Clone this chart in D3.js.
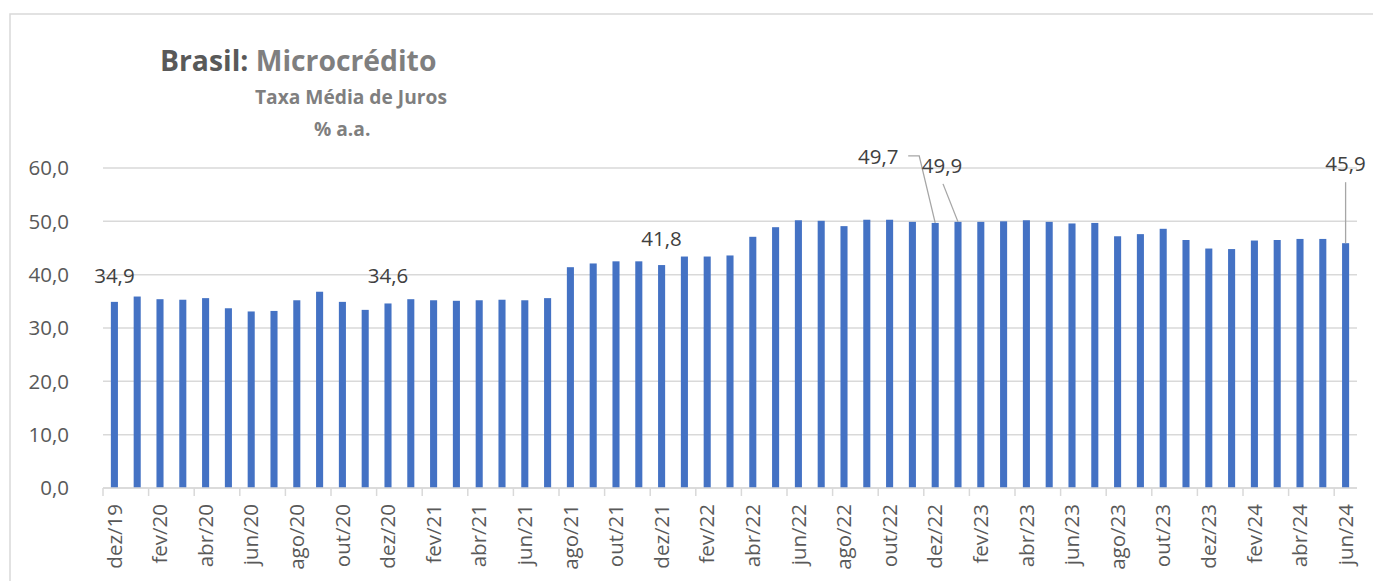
<!DOCTYPE html>
<html><head><meta charset="utf-8">
<script src="https://cdn.jsdelivr.net/npm/d3@7"></script>
<style>html,body{margin:0;padding:0;background:#fff;}svg{display:block;font-family:"Open Sans",sans-serif;}</style>
</head><body>
<svg id="chart" width="1373" height="581"></svg>
<script>
const categories = ["dez/19","jan/20","fev/20","mar/20","abr/20","mai/20","jun/20","jul/20","ago/20","set/20","out/20","nov/20",
"dez/20","jan/21","fev/21","mar/21","abr/21","mai/21","jun/21","jul/21","ago/21","set/21","out/21","nov/21",
"dez/21","jan/22","fev/22","mar/22","abr/22","mai/22","jun/22","jul/22","ago/22","set/22","out/22","nov/22",
"dez/22","jan/23","fev/23","mar/23","abr/23","mai/23","jun/23","jul/23","ago/23","set/23","out/23","nov/23",
"dez/23","jan/24","fev/24","mar/24","abr/24","mai/24","jun/24"];
const values = [34.9,35.9,35.4,35.3,35.6,33.7,33.1,33.2,35.2,36.8,34.9,33.4,
34.6,35.4,35.2,35.1,35.2,35.3,35.2,35.6,41.4,42.1,42.5,42.5,
41.8,43.4,43.4,43.6,47.1,48.9,50.2,50.1,49.1,50.3,50.3,49.9,
49.7,49.9,49.9,50.0,50.2,49.9,49.6,49.7,47.2,47.6,48.6,46.5,
44.9,44.8,46.4,46.5,46.7,46.7,45.9];
const yTicks = [0,10,20,30,40,50,60];
const labeledCats = ["dez/19","dez/20","dez/21","dez/22","jan/23","jun/24"];
const titleBold = "Brasil:";
const titleRest = "Microcrédito";
const subtitle1 = "Taxa Média de Juros";
const subtitle2 = "% a.a.";

const svg = d3.select("#chart");
const fmt = v => d3.format(".1f")(v).replace(".", ",");

// frame
svg.append("path").attr("d","M10,581 L10,14 L1373,14").attr("fill","none").attr("stroke","#d9d9d9").attr("stroke-width",1.5);

const x = d3.scaleBand().domain(categories).range([103,1357]).paddingInner(0.69).paddingOuter(0.345);
const y = d3.scaleLinear().domain([0,60]).range([488,168]);

// gridlines
svg.append("g").selectAll("line").data(yTicks).join("line")
  .attr("x1",103).attr("x2",1357).attr("y1",d=>y(d)).attr("y2",d=>y(d))
  .attr("stroke","#d9d9d9").attr("stroke-width",1.5);

// y labels
svg.append("g").selectAll("text").data(yTicks).join("text")
  .attr("x",69).attr("y",d=>y(d)).attr("dy","0.35em").attr("text-anchor","end")
  .attr("font-size",20.5).attr("fill","#595959").text(fmt);

// bars
svg.append("g").selectAll("rect").data(values).join("rect")
  .attr("x",(d,i)=>x(categories[i])).attr("width",x.bandwidth())
  .attr("y",d=>y(d)).attr("height",d=>y(0)-y(d)).attr("fill","#4472C4");

// x axis
const step = x.step();
const x0 = 103;
const xAxis = svg.append("g");
xAxis.append("line").attr("x1",103).attr("x2",1357).attr("y1",y(0)).attr("y2",y(0)).attr("stroke","#d9d9d9").attr("stroke-width",1.5);
const shown = categories.filter((c,i)=>i%2===0);
xAxis.selectAll("line.tick").data(shown).join("line").attr("class","tick")
  .attr("x1",c=>x0+categories.indexOf(c)*step).attr("x2",c=>x0+categories.indexOf(c)*step)
  .attr("y1",y(0)).attr("y2",y(0)+8).attr("stroke","#d9d9d9").attr("stroke-width",1.5);
xAxis.selectAll("text").data(shown).join("text")
  .attr("transform",c=>`translate(${x(c)+x.bandwidth()/2},504) rotate(-90)`)
  .attr("dy","0.35em").attr("text-anchor","end").attr("font-size",20.5).attr("fill","#595959").text(c=>c);

// data labels
const labelCfg = {
  "dez/19":{dx:0,dy:-19},
  "dez/20":{dx:0,dy:-20},
  "dez/21":{dx:0,dy:-19},
  "dez/22":{dx:-57,dy:-59,leader:"elbow"},
  "jan/23":{dx:-16,dy:-49,leader:"line"},
  "jun/24":{dx:0,dy:-72,leader:"vert"}
};
const lg = svg.append("g");
labeledCats.forEach(c=>{
  const i = categories.indexOf(c);
  const v = values[i];
  const cx = x(c)+x.bandwidth()/2, cy = y(v);
  const cfg = labelCfg[c];
  const tx = cx+cfg.dx, ty = cy+cfg.dy;
  lg.append("text").attr("x",tx).attr("y",ty).attr("text-anchor","middle")
    .attr("font-size",20.5).attr("fill","#404040").text(fmt(v));
  if(cfg.leader==="elbow"){
    lg.append("path").attr("d",`M${tx+30},${ty-8} L${tx+41},${ty-8} L${cx},${cy}`)
      .attr("fill","none").attr("stroke","#a6a6a6").attr("stroke-width",1.3);
  } else if(cfg.leader==="line"){
    lg.append("path").attr("d",`M${tx+1},${ty+11} L${cx},${cy}`)
      .attr("fill","none").attr("stroke","#a6a6a6").attr("stroke-width",1.3);
  } else if(cfg.leader==="vert"){
    lg.append("path").attr("d",`M${cx},${ty+11} L${cx},${cy}`)
      .attr("fill","none").attr("stroke","#a6a6a6").attr("stroke-width",1.3);
  }
});

// titles
const t = svg.append("text").attr("x",160).attr("y",71).attr("font-size",28.3).attr("font-weight","bold");
t.append("tspan").attr("fill","#595959").text(titleBold);
t.append("tspan").attr("fill","#7f7f7f").text(" "+titleRest);
svg.append("text").attr("x",255).attr("y",104).attr("font-size",19.2).attr("font-weight","bold").attr("fill","#7f7f7f").text(subtitle1);
svg.append("text").attr("x",314).attr("y",136).attr("font-size",19.2).attr("font-weight","bold").attr("fill","#7f7f7f").text(subtitle2);
</script>
</body></html>
